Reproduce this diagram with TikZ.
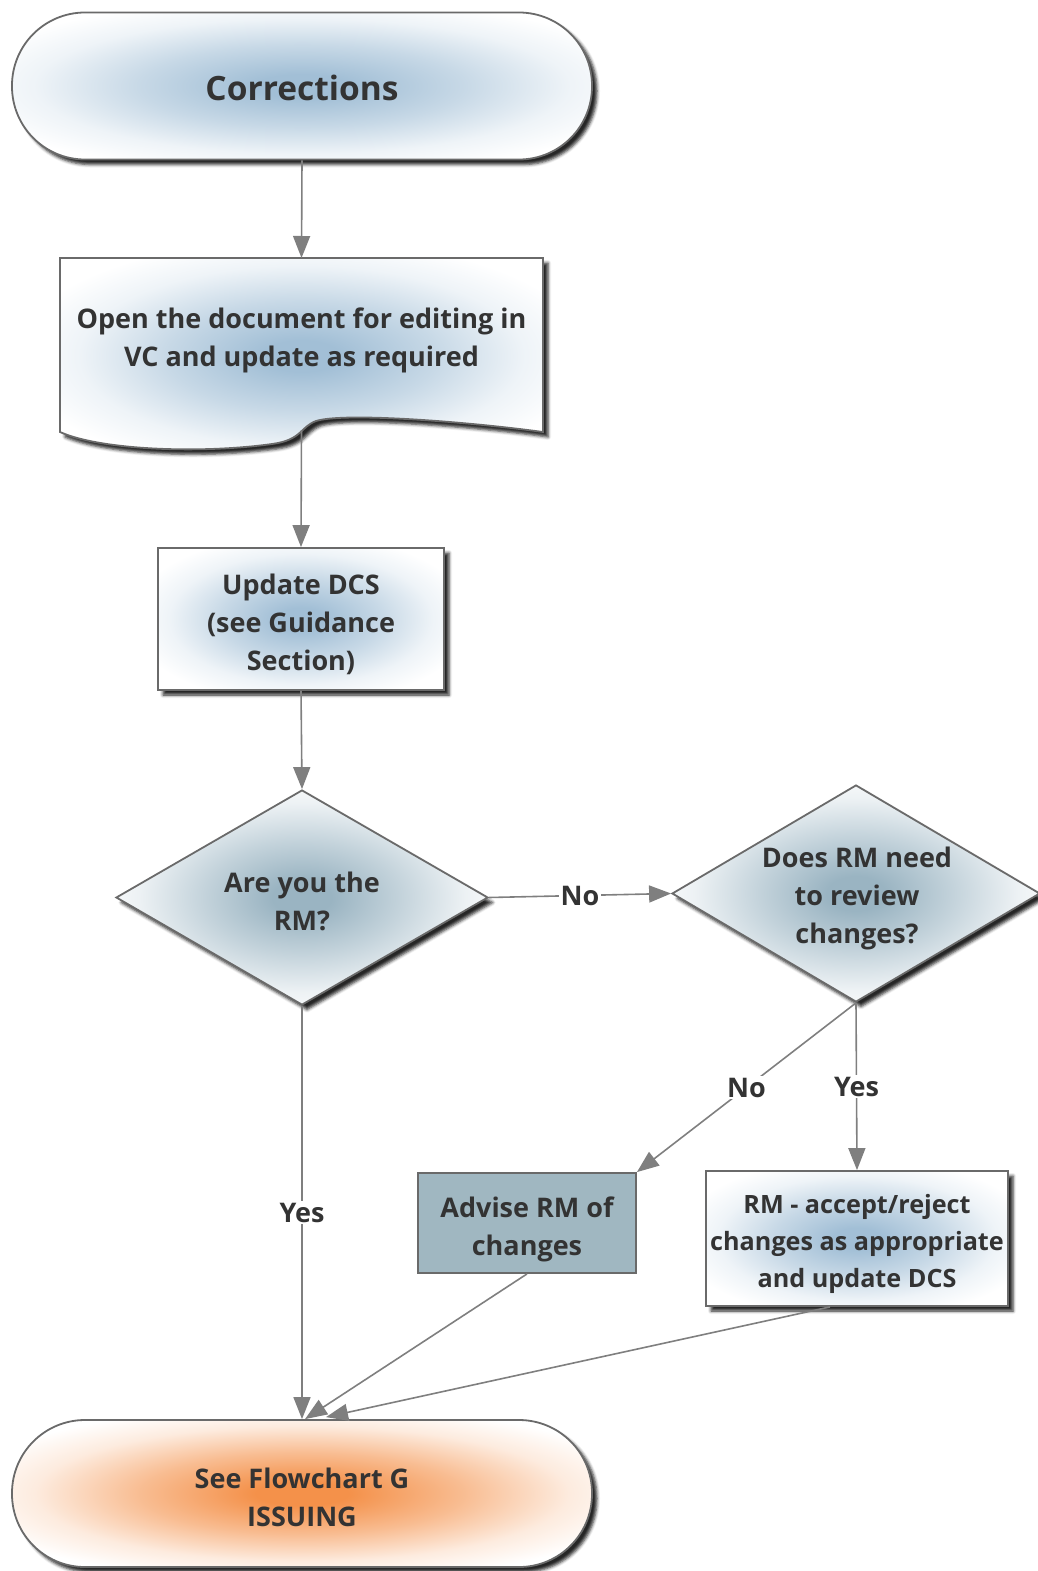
\documentclass[tikz,border=0pt]{standalone}
\usepackage{fontspec}
\setmainfont{Open Sans}
\usetikzlibrary{arrows.meta,shapes.geometric,shadows.blur}
\definecolor{txtc}{HTML}{333333}
\definecolor{bordc}{HTML}{6A6A6A}
\definecolor{arrc}{HTML}{7F7F7F}
\definecolor{blueC}{HTML}{A2BFD6}
\definecolor{diaC}{HTML}{9AB4C2}
\definecolor{orgC}{HTML}{F4914A}
\definecolor{advC}{HTML}{A0B7C1}
\pgfdeclareradialshading{blueRad}{\pgfpoint{0bp}{0bp}}{color(0bp)=(blueC); color(4bp)=(blueC); color(14bp)=(blueC!60!white); color(23bp)=(blueC!18!white); color(30bp)=(white); color(50bp)=(white)}
\pgfdeclareradialshading{diaRad}{\pgfpoint{0bp}{0bp}}{color(0bp)=(diaC); color(4bp)=(diaC); color(13bp)=(diaC!60!white); color(22bp)=(diaC!18!white); color(29bp)=(white); color(50bp)=(white)}
\pgfdeclareradialshading{orgRad}{\pgfpoint{0bp}{0bp}}{color(0bp)=(orgC); color(4bp)=(orgC); color(14bp)=(orgC!60!white); color(23bp)=(orgC!18!white); color(30bp)=(white); color(50bp)=(white)}
\tikzset{
  txt/.style={text=txtc, font=\bfseries\fontsize{27}{38}\selectfont, align=center},
  shd/.style={blur shadow={shadow xshift=5pt, shadow yshift=-5pt, shadow blur radius=3pt, shadow opacity=85}},
  boxbase/.style={draw=bordc, line width=1.8pt, inner sep=0pt},
  termbox/.style={boxbase, shd, rectangle, rounded corners=73pt, minimum width=580pt, minimum height=147pt},
  blueshade/.style={shading=blueRad},
  rectbox/.style={boxbase, shd, rectangle, blueshade},
  diabox/.style={boxbase, shd, diamond, shading=diaRad},
  arr/.style={draw=arrc, line width=1.6pt, -{Triangle[length=22pt,width=17pt]}, arrc},
  lbl/.style={txt, fill=white, inner sep=2pt}
}
\begin{document}
\begin{tikzpicture}[x=1pt,y=-1pt]
\useasboundingbox (0,0) rectangle (1038,1571);
% start terminal
\node[termbox, blueshade] (start) at (302,86) {};
\node[txt, font=\bfseries\fontsize{33.5}{40}\selectfont] (startt) at (302,88) {Corrections};
% document shape
\path[shd, draw=bordc, line width=1.8pt, shading=blueRad]
  (60,258) -- (543,258) -- (543,432)
  .. controls (470,422) and (345,412) .. (316,421)
  .. controls (300,427) and (302,440) .. (272,444)
  .. controls (200,454) and (100,450) .. (60,432) -- cycle;
\node[minimum width=483pt, minimum height=172pt, anchor=north, inner sep=0pt] (doc) at (301.5,258) {};
\node[txt] (doctext) at (301.5,340) {Open the document for editing in\\VC and update as required};
% update DCS
\node[rectbox, minimum width=286pt, minimum height=142pt] (upd) at (301,619) {};
\node[txt] (updt) at (301,624) {Update DCS\\(see Guidance\\Section)};
% decisions
\node[diabox, minimum width=372pt, minimum height=215pt] (d1) at (302,897.5) {};
\node[txt] (d1t) at (302,901) {Are you the\\RM?};
\node[diabox, minimum width=368pt, minimum height=217pt] (d2) at (856,893.5) {};
\node[txt] (d2t) at (857,898) {Does RM need\\to review\\changes?};
% advise
\node[boxbase, fill=advC, minimum width=218pt, minimum height=100pt] (adv) at (527,1223) {};
\node[txt] (advt) at (527,1229) {Advise RM of\\changes};
% RM box
\node[rectbox, minimum width=302pt, minimum height=135pt] (rm) at (857,1238.5) {};
\node[txt, font=\bfseries\fontsize{25.2}{37}\selectfont] (rmt) at (857,1244) {RM - accept/reject\\changes as appropriate\\and update DCS};
% end terminal
\node[termbox, shading=orgRad] (end) at (302,1493.5) {};
\node[txt] (endt) at (302,1497) {See Flowchart G\\ISSUING};
% connectors
\draw[arr] (start.south) -- (doc.north);
\draw[arr] (doc.south) -- (upd.north);
\draw[arr] (upd.south) -- (d1.north);
\draw[arr] (d1.east) -- node[lbl] (lno1) {No} (d2.west);
\draw[arr] (d2.south) -- node[lbl, pos=0.5] (lno2) {No} (adv.north east);
\draw[arr] (d2.south) -- node[lbl, pos=0.5] (lyes2) {Yes} (rm.north);
\draw[arr] (d1.south) -- node[lbl, pos=0.5] (lyes1) {Yes} (end.north);
\draw[arr] (adv.south) -- ([xshift=3pt]end.north);
\draw[arr] ([xshift=-27pt]rm.south) -- ([xshift=24pt,yshift=2pt]end.north);
\end{tikzpicture}
\end{document}
